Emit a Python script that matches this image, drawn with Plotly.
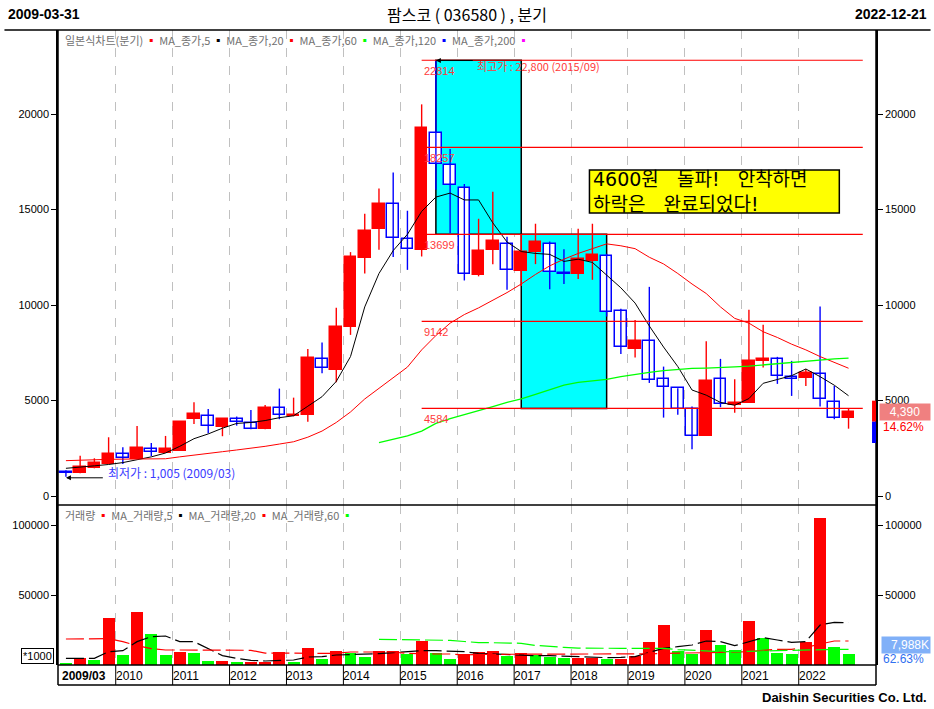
import plotly.graph_objects as go

# ---------------- data ----------------
years = list(range(2009, 2023))
quarter_labels = [f"{y}/{m:02d}" for y in years for m in (3, 6, 9, 12)]

open_ = [1250, 1190, 1450, 1690, 2185, 1955, 2450, 2270, 2375, 4050, 4175, 3630,
         4020, 3840, 3525, 4625, 4175, 4245, 7180, 6620, 8840, 12435, 13955, 15285,
         13450, 12890, 19020, 17330, 16125, 11545, 12905, 13190, 11755, 12800, 13190, 11650,
         11615, 12280, 12575, 9695, 7720, 8105, 6115, 5645, 4560, 3160, 6115, 4770,
         4890, 7075, 7180, 6220, 6200, 6395, 4910, 4100]
high = [1350, 2110, 1975, 3075, 2550, 3670, 2780, 3145, 3880, 4910, 4560, 4050,
        4160, 4505, 4770, 5625, 5150, 7700, 8035, 9850, 12770, 14775, 16100, 16940,
        14935, 20505, 22800, 18165, 16335, 14515, 15930, 13570, 13700, 14255, 13325, 12925,
        13990, 14255, 12680, 9800, 9220, 10950, 6775, 5645, 4680, 8105, 7180, 6115,
        9745, 8960, 7285, 7075, 6655, 9920, 5765, 4595]
low = [1005, 1190, 1450, 1690, 1680, 1955, 2100, 2270, 2350, 3775, 3285, 3130,
       3685, 3495, 3500, 4020, 4175, 3890, 6430, 5960, 8435, 11650, 12890, 12510,
       11840, 12540, 16030, 13760, 11285, 11500, 12140, 10795, 11000, 12140, 10830, 11095,
       11355, 11320, 9395, 7440, 7245, 5920, 4105, 4260, 2445, 3160, 4650, 4365,
       4890, 6725, 5870, 5240, 5765, 4680, 4020, 3525]
close = [1200, 1535, 1730, 2200, 1975, 2515, 2305, 2465, 3880, 4300, 3685, 4035,
         3880, 3525, 4625, 4230, 4245, 7245, 6690, 8855, 12490, 13900, 15300, 13505,
         12925, 19285, 17380, 16280, 11615, 12820, 13360, 11825, 12785, 13310, 11720, 11600,
         12420, 12610, 9655, 7790, 8120, 6095, 5695, 4560, 3160, 6025, 4805, 4855,
         7075, 7180, 6305, 6115, 6445, 5065, 4070, 4390]

ma5 = [1450, 1500, 1580, 1650, 1750, 1900, 2050, 2250, 2600, 3000, 3250, 3550,
       3800, 3850, 3950, 4100, 4200, 4700, 5200, 6000, 7300, 9900, 11650, 12850,
       13700, 14900, 15650, 15860, 15500, 15500, 14300, 13300, 12800, 12700, 12650, 12280,
       12400, 12230, 11550, 10900, 10100, 8900, 7800, 6777, 5550, 5280, 4900, 4750,
       5100, 5900, 6100, 6300, 6650, 6250, 5800, 5250]
ma20 = [1850, 1880, 1920, 1920, 1930, 1930, 1940, 1950, 2050, 2130, 2230, 2320,
        2410, 2500, 2600, 2720, 2840, 3080, 3400, 3850, 4400, 5080, 5650, 6200,
        6750, 7650, 8400, 9050, 9500, 9850, 10250, 10650, 11100, 11600, 12050, 12400,
        12700, 12950, 13200, 13100, 12950, 12500, 12150, 11650, 11100, 10600, 9900, 9300,
        9050, 8600, 8300, 7950, 7650, 7300, 6980, 6690]
ma60 = [None] * 22 + [2800, 2980, 3150, 3400, 3800, 4050, 4250, 4480, 4680, 4900,
                      5080, 5320, 5540, 5800, 5950, 6030, 6110, 6250, 6380, 6470, 6560, 6620,
                      6680, 6700, 6720, 6760, 6800, 6870, 6940, 7000, 7080, 7140, 7180, 7215]

volume = [1430, 5000, 3570, 33800, 7140, 38100, 22400, 7140, 9500, 8800, 3100, 3150,
          2400, 2450, 2500, 9500, 2400, 12400, 4500, 10200, 8800, 5950, 9900, 10000,
          8100, 17400, 8800, 4500, 7860, 9500, 10200, 6670, 8800, 7140, 5950, 5240,
          5300, 5350, 4500, 4550, 6670, 16700, 28800, 10200, 8100, 25200, 14500, 10950,
          31700, 19500, 8800, 8100, 16700, 105200, 13100, 7988]
vol_ma5 = [4760, 4760, 4760, 9500, 10200, 16670, 20240, 20700, 16670, 16670, 11900, 6670,
           4760, 3330, 2860, 3100, 3570, 5710, 5950, 7140, 7380, 7860, 8100, 8800,
           9500, 10200, 10200, 10000, 9500, 8330, 7860, 7140, 6900, 6670, 6670, 6190,
           5950, 5710, 5240, 5480, 5950, 9050, 11900, 13100, 14300, 17140, 16670, 13800,
           16670, 19500, 17860, 16200, 16670, 28570, 30480, 30240]
vol_ma20 = [18570, 18570, 18800, 18800, 16670, 13800, 11670, 10700, 10700, 10700, 10700, 10700,
            10700, 10500, 8500, 8330, 8330, 8330, 8330, 8330, 9290, 9290, 9290, 9290,
            8330, 7860, 7860, 7860, 7200, 7600, 7640, 7640, 7640, 7640, 7640, 7640,
            7640, 7640, 7640, 7640, 7640, 8000, 8330, 8330, 8300, 8800, 9000, 9300,
            9500, 10500, 11200, 11200, 12500, 15000, 17140, 17140]
vol_ma60 = [None] * 22 + [18330, 18100, 17900, 17800, 17700, 17600, 16800, 16000, 15900, 15700,
                          15500, 14000, 13100, 12600, 12100, 11900, 11900, 11900, 11900, 11900,
                          11900, 11000, 10500, 9500, 9500, 9500, 9500, 10000, 10200, 10500,
                          10800, 11200, 11200, 11200]

fib_levels = [22814, 18257, 13699, 9142, 4584]
fib_start, fib_end = 25, 56          # quarter index range of retracement lines
box1 = (26, 32)                      # quarter index range of first cyan box
box2 = (32, 38)
low_idx, high_idx = 0, 26
callout_text = "4600원   돌파!   안착하면<br>하락은   완료되었다!"
last_close_label = "4,390"
last_change_label = "14.62%"
last_vol_label = "7,988K"
last_vol_change = "62.63%"

# ---------------- styling constants ----------------
RED = "#ff0000"
BLUE = "#0000ff"
GREEN = "#00ff00"
FIB_TXT = "#ff3a3a"
KR = "Noto Sans CJK KR"
NUM = "Liberation Sans, Arial, sans-serif"

n = len(close)
idx = list(range(n))
PX0, PX1, PY0, PY1 = 54, 879, 30, 665   # plot box in pixels (left,right,top,bottom)
W, H = 934, 709
plot_w, plot_h = PX1 - PX0, PY1 - PY0
def px_x(p):  # page pixel -> paper x
    return (p - PX0) / plot_w
def px_y(p):  # page pixel -> paper y
    return (PY1 - p) / plot_h

price_bottom = px_y(505)

fig = go.Figure()

# ---- candle wicks ----
for up in (True, False):
    xs, ys = [], []
    for i in idx:
        if (close[i] >= open_[i]) == up:
            xs += [i, i, None]
            ys += [low[i], high[i], None]
    fig.add_trace(go.Scatter(x=xs, y=ys, mode="lines", xaxis="x2", yaxis="y",
                             line=dict(color=RED if up else BLUE, width=1.4),
                             hoverinfo="skip", showlegend=False))

# ---- candle bodies ----
body_base = [min(o, c) for o, c in zip(open_, close)]
body_h = [max(abs(c - o), 40) for o, c in zip(open_, close)]
body_fill = [RED if c >= o else "#ffffff" for o, c in zip(open_, close)]
body_line = [RED if c >= o else BLUE for o, c in zip(open_, close)]
fig.add_trace(go.Bar(x=idx, y=body_h, base=body_base, width=0.82, xaxis="x2", yaxis="y",
                     marker=dict(color=body_fill, line=dict(color=body_line, width=1.5)),
                     showlegend=False, hoverinfo="skip"))

# ---- price moving averages ----
fig.add_trace(go.Scatter(x=idx, y=ma5, mode="lines", xaxis="x2", yaxis="y",
                         line=dict(color="#000000", width=1), showlegend=False))
fig.add_trace(go.Scatter(x=idx, y=ma20, mode="lines", xaxis="x2", yaxis="y",
                         line=dict(color=RED, width=1), showlegend=False))
fig.add_trace(go.Scatter(x=idx, y=ma60, mode="lines", xaxis="x2", yaxis="y",
                         line=dict(color=GREEN, width=1.3), showlegend=False))

# ---- volume ----
vol_col = [RED if (i > 0 and volume[i] > volume[i - 1]) else GREEN for i in idx]
fig.add_trace(go.Bar(x=idx, y=volume, width=0.84, xaxis="x", yaxis="y2",
                     marker=dict(color=vol_col, line=dict(width=0)),
                     showlegend=False, hoverinfo="skip"))
for series, col in ((vol_ma5, "#000000"), (vol_ma20, RED), (vol_ma60, GREEN)):
    fig.add_trace(go.Scatter(x=idx, y=series, mode="lines", xaxis="x", yaxis="y2",
                             line=dict(color=col, width=1.2, dash="18px,5px"),
                             showlegend=False, hoverinfo="skip"))

# invisible traces for right-hand mirror axes
fig.add_trace(go.Scatter(x=[0], y=[0], xaxis="x2", yaxis="y3", mode="markers",
                         marker=dict(opacity=0), showlegend=False, hoverinfo="skip"))
fig.add_trace(go.Scatter(x=[0], y=[0], xaxis="x", yaxis="y4", mode="markers",
                         marker=dict(opacity=0), showlegend=False, hoverinfo="skip"))

# ---------------- shapes ----------------
shapes = []
# cyan boxes
for (a, b), (top, bot) in ((box1, (fib_levels[0], fib_levels[2])),
                           (box2, (fib_levels[2], fib_levels[4]))):
    shapes.append(dict(type="rect", xref="x2", yref="y", x0=a, x1=b, y0=bot, y1=top,
                       fillcolor="#00ffff", line=dict(color="#000000", width=1.5),
                       layer="between"))
# retracement lines
for lv in fib_levels:
    shapes.append(dict(type="line", xref="x2", yref="y", x0=fib_start, x1=fib_end,
                       y0=lv, y1=lv, line=dict(color=RED, width=1.2), layer="above"))
# frame lines
frame = [
    (px_x(0), 1, px_x(W), 1),
    (0, price_bottom, 1, price_bottom),
    (0, 0, 1, 0),
    (0, px_y(685), 1, px_y(685)),
    (0, px_y(685), 0, 1),
    (1, px_y(685), 1, 1),
]
for x0, y0, x1, y1 in frame:
    shapes.append(dict(type="line", xref="paper", yref="paper", x0=x0, y0=y0, x1=x1, y1=y1,
                       line=dict(color="#000000", width=1.5)))
year_bounds = [4 * k - 0.5 for k in range(1, len(years))]
for b in year_bounds:
    shapes.append(dict(type="line", xref="x", yref="paper", x0=b, x1=b, y0=px_y(685), y1=0,
                       line=dict(color="#000000", width=1)))
# last price range marker at right edge
shapes.append(dict(type="rect", xref="paper", yref="y", x0=px_x(875), x1=1,
                   y0=close[-1] - 500, y1=close[-1] + 600, fillcolor=RED, line=dict(width=0)))
shapes.append(dict(type="rect", xref="paper", yref="y", x0=px_x(875), x1=1,
                   y0=low[-1] - 750, y1=close[-1] - 500, fillcolor=BLUE, line=dict(width=0)))
# yellow callout box
shapes.append(dict(type="rect", xref="paper", yref="paper", x0=px_x(590), x1=px_x(842),
                   y0=px_y(213), y1=px_y(170), fillcolor="#ffff00",
                   line=dict(color="#000000", width=1.5), layer="above"))

# ---------------- annotations ----------------
ann = []
hdr_font = dict(family="Liberation Sans Narrow, " + NUM, size=14, color="#000")
ann.append(dict(xref="paper", yref="paper", x=px_x(2), y=px_y(14), xanchor="left", yanchor="middle",
                text="<b>2009-03-31</b>", showarrow=False, font=hdr_font))
ann.append(dict(xref="paper", yref="paper", x=px_x(932), y=px_y(14), xanchor="right", yanchor="middle",
                text="<b>2022-12-21</b>", showarrow=False, font=hdr_font))
ann.append(dict(xref="paper", yref="paper", x=px_x(466), y=px_y(14), xanchor="center", yanchor="middle",
                text="팜스코 ( 036580 ) , 분기", showarrow=False,
                font=dict(family=KR, size=16, color="#000")))

sq = "<span style='color:{}'>▪</span>"
legend_txt = ("일본식차트(분기) " + sq.format(RED) + " MA_종가,5 " + sq.format("#000") +
              " MA_종가,20 " + sq.format(RED) + " MA_종가,60 " + sq.format(GREEN) +
              " MA_종가,120 " + sq.format(BLUE) + " MA_종가,200 " + sq.format("#ff00ff"))
ann.append(dict(xref="paper", yref="paper", x=px_x(59), y=px_y(40), xanchor="left", yanchor="middle",
                text=legend_txt, showarrow=False, font=dict(family=KR, size=11, color="#707070")))
vlegend = ("거래량 " + sq.format(RED) + " MA_거래량,5 " + sq.format("#000") +
           " MA_거래량,20 " + sq.format(RED) + " MA_거래량,60 " + sq.format(GREEN))
ann.append(dict(xref="paper", yref="paper", x=px_x(59), y=px_y(515), xanchor="left", yanchor="middle",
                text=vlegend, showarrow=False, font=dict(family=KR, size=11, color="#707070")))

# retracement labels
for lv in fib_levels:
    ann.append(dict(xref="x2", yref="y", x=fib_start, y=lv, xanchor="left", yanchor="top",
                    text=str(lv), showarrow=False, yshift=-3,
                    font=dict(family=NUM, size=11, color=FIB_TXT)))

# low / high markers: arrow + text
arrow_len = 2.7
ann.append(dict(xref="x2", yref="y", axref="x2", ayref="y", x=low_idx, y=low[low_idx],
                ax=low_idx + arrow_len, ay=low[low_idx], text="", showarrow=True,
                arrowhead=2, arrowsize=1, arrowwidth=1, arrowcolor="#000", standoff=0, yshift=-1))
ann.append(dict(xref="x2", yref="y", x=low_idx + arrow_len, y=low[low_idx], xanchor="left",
                yanchor="middle", yshift=4, xshift=2, showarrow=False,
                text=f"최저가 : {low[low_idx]:,} ({quarter_labels[low_idx]})",
                font=dict(family=KR, size=12, color="#3a3aff")))
ann.append(dict(xref="x2", yref="y", axref="x2", ayref="y", x=high_idx, y=high[high_idx],
                ax=high_idx + arrow_len, ay=high[high_idx], text="", showarrow=True,
                arrowhead=2, arrowsize=1, arrowwidth=1, arrowcolor="#000", standoff=0))
ann.append(dict(xref="x2", yref="y", x=high_idx + arrow_len, y=high[high_idx], xanchor="left",
                yanchor="middle", yshift=-5, xshift=1, showarrow=False,
                text=f"최고가 : {high[high_idx]:,} ({quarter_labels[high_idx]})",
                font=dict(family=KR, size=11, color=FIB_TXT)))

# yellow callout text
ann.append(dict(xref="paper", yref="paper", x=px_x(592), y=px_y(191.5),
                xanchor="left", yanchor="middle", text=callout_text, showarrow=False, align="left",
                font=dict(family="DejaVu Sans, " + KR, size=19, color="#000")))

# right-side last value labels
ann.append(dict(xref="paper", yref="y", x=px_x(882), y=close[-1], xanchor="left", yanchor="middle",
                text=last_close_label, showarrow=False, width=48, align="center",
                bgcolor="#f08080", font=dict(family=NUM, size=12, color="#ffffff")))
ann.append(dict(xref="paper", yref="y", x=px_x(929), y=close[-1], xanchor="right", yanchor="middle",
                text=last_change_label, showarrow=False, yshift=-15,
                font=dict(family=NUM, size=12, color=RED)))
ann.append(dict(xref="paper", yref="y2", x=px_x(884), y=volume[-1], xanchor="left", yanchor="middle",
                text=last_vol_label, showarrow=False, width=46, align="right", yshift=9,
                bgcolor="#80b0f8", font=dict(family=NUM, size=12, color="#ffffff")))
ann.append(dict(xref="paper", yref="y2", x=px_x(929), y=volume[-1], xanchor="right", yanchor="middle",
                text=last_vol_change, showarrow=False, yshift=-5,
                font=dict(family=NUM, size=12, color="#3070f0")))

# *1000 unit box
ann.append(dict(xref="paper", yref="paper", x=px_x(33), y=px_y(656), xanchor="center", yanchor="middle",
                text="*1000", showarrow=False, bordercolor="#000", borderwidth=1, borderpad=1,
                font=dict(family=NUM, size=11, color="#000")))

# x-axis year labels
ann.append(dict(xref="paper", yref="paper", x=px_x(56), y=px_y(676), xanchor="left", yanchor="middle",
                text="<b>" + quarter_labels[0] + "</b>", showarrow=False,
                font=dict(family=NUM, size=12, color="#000")))
for k, b in enumerate(year_bounds):
    ann.append(dict(xref="x", yref="paper", x=b, y=px_y(676), xanchor="left", yanchor="middle",
                    text=str(years[k + 1]), showarrow=False, xshift=-2,
                    font=dict(family=NUM, size=12, color="#000")))

ann.append(dict(xref="paper", yref="paper", x=px_x(932), y=px_y(697), xanchor="right", yanchor="middle",
                text="<b>Daishin Securities Co. Ltd.</b>", showarrow=False,
                font=dict(family=NUM, size=13, color="#000")))

# ---------------- layout ----------------
xr = [-0.557, 56.93]
grid = dict(showgrid=True, gridcolor="#c0c0c0", griddash="dash", gridwidth=1,
            tickvals=year_bounds, showticklabels=False, zeroline=False, showline=False, ticks="")
price_rng = [-471, 24398]
vol_rng = [0, 114286]
ytick = dict(ticks="outside", ticklen=5, tickcolor="#000", showgrid=False, zeroline=False,
             showline=True, linecolor="#000", linewidth=1.5, tickformat="d",
             tickfont=dict(family=NUM, size=11, color="#000"))

fig.update_layout(
    width=W, height=H,
    margin=dict(l=PX0, r=W - PX1, t=PY0, b=H - PY1),
    paper_bgcolor="#ffffff", plot_bgcolor="#ffffff",
    barmode="overlay", bargap=0,
    showlegend=False,
    xaxis=dict(domain=[0, 1], anchor="y2", range=xr, **grid),
    xaxis2=dict(domain=[0, 1], anchor="y", range=xr, matches="x", **grid),
    yaxis=dict(domain=[price_bottom, 1], anchor="x2", range=price_rng,
               tickvals=[0, 5000, 10000, 15000, 20000], **ytick),
    yaxis3=dict(overlaying="y", side="right", anchor="x2", range=price_rng, matches="y",
                tickvals=[0, 5000, 10000, 15000, 20000], **ytick),
    yaxis2=dict(domain=[0, price_bottom], anchor="x", range=vol_rng,
                tickvals=[50000, 100000], **ytick),
    yaxis4=dict(overlaying="y2", side="right", anchor="x", range=vol_rng, matches="y2",
                tickvals=[50000, 100000], **ytick),
    shapes=shapes,
    annotations=ann,
    hovermode=False,
)

fig.write_html("out.html", config={"displayModeBar": False},
               post_script="document.body.style.margin='0';document.body.style.overflow='hidden';")
